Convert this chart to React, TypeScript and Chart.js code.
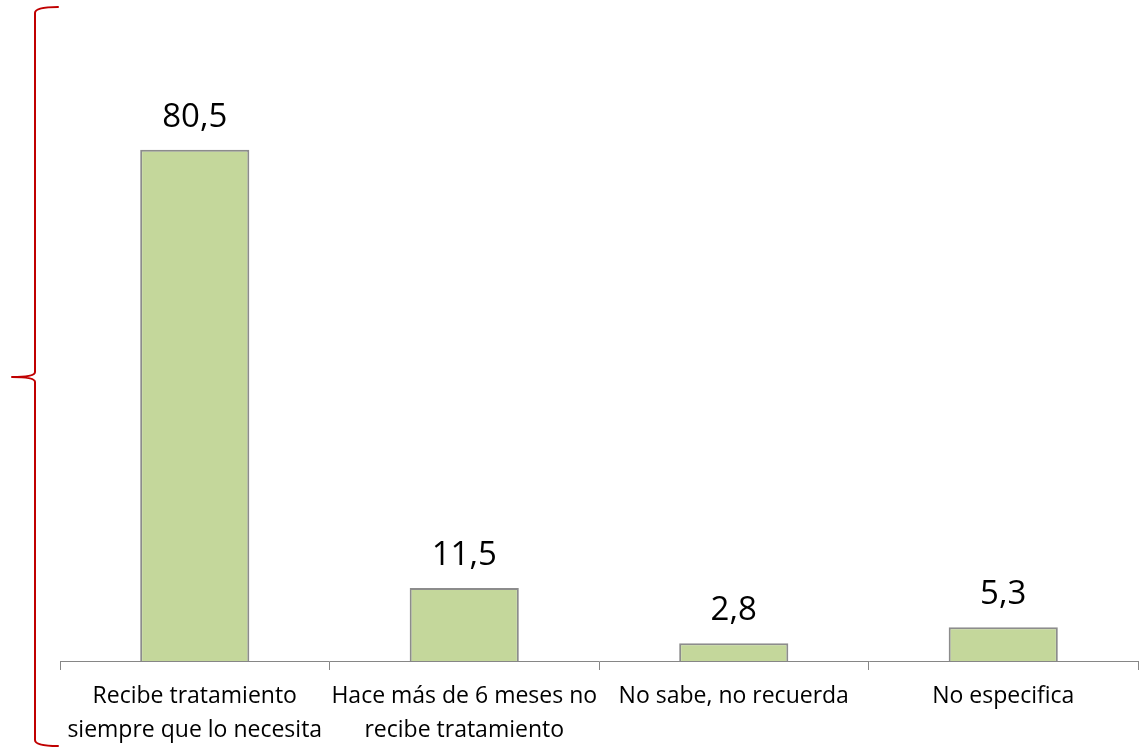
import React, { useEffect, useRef } from "react";
import { Chart, registerables } from "chart.js";

Chart.register(...registerables);

const categories: string[][] = [
  ["Recibe tratamiento", "siempre que lo necesita"],
  ["Hace más de 6 meses no", "recibe tratamiento"],
  ["No sabe, no recuerda"],
  ["No especifica"],
];
const values: number[] = [80.5, 11.5, 2.8, 5.3];
const valueLabels: string[] = ["80,5", "11,5", "2,8", "5,3"];

const FONT = "'Open Sans', Lato, sans-serif";

export default function App() {
  const ref = useRef<HTMLCanvasElement | null>(null);

  useEffect(() => {
    if (!ref.current) return;
    document.body.style.margin = "0";

    const labelPlugin = {
      id: "valueLabels",
      afterDatasetsDraw(chart: any) {
        const ctx = chart.ctx;
        const meta = chart.getDatasetMeta(0);
        ctx.save();
        ctx.fillStyle = "#000";
        ctx.font = `33px ${FONT}`;
        ctx.textAlign = "center";
        ctx.textBaseline = "alphabetic";
        meta.data.forEach((el: any, i: number) => {
          ctx.fillText(valueLabels[i], el.x, el.y - 23);
        });
        ctx.restore();
      },
    };

    const bracePlugin = {
      id: "brace",
      afterDraw(chart: any) {
        const ctx = chart.ctx;
        ctx.save();
        ctx.strokeStyle = "#c00000";
        ctx.lineWidth = 2;
        ctx.lineCap = "round";
        ctx.lineJoin = "round";
        const x = 35;
        const top = 7;
        const bot = 746;
        const mid = 377;
        ctx.beginPath();
        ctx.moveTo(58, top);
        ctx.quadraticCurveTo(x, top, x, top + 6);
        ctx.lineTo(x, mid - 5);
        ctx.quadraticCurveTo(x, mid, 12, mid);
        ctx.quadraticCurveTo(x, mid, x, mid + 5);
        ctx.lineTo(x, bot - 6);
        ctx.quadraticCurveTo(x, bot, 58, bot);
        ctx.stroke();
        ctx.restore();
      },
    };

    const chart = new Chart(ref.current, {
      type: "bar",
      data: {
        labels: categories,
        datasets: [
          {
            data: values,
            backgroundColor: "#c4d79b",
            borderColor: "#8c8c8c",
            borderWidth: 2,
            barPercentage: 0.405,
            categoryPercentage: 1,
          },
        ],
      },
      options: {
        animation: false,
        responsive: true,
        maintainAspectRatio: false,
        layout: { padding: { top: 26, left: 60, right: 5, bottom: 0 } },
        plugins: {
          legend: { display: false },
          tooltip: { enabled: false },
        },
        scales: {
          x: {
            grid: {
              display: true,
              drawOnChartArea: false,
              drawTicks: true,
              tickLength: 9,
              color: "#868686",
              offset: true,
            },
            border: { display: true, color: "#868686", width: 1 },
            ticks: {
              color: "#000",
              font: { family: FONT, size: 23, lineHeight: 1.45 },
              padding: 10,
              maxRotation: 0,
              autoSkip: false,
            },
            afterFit(scale: any) {
              scale.height = 89;
            },
          },
          y: {
            display: false,
            min: 0,
            max: 100,
          },
        },
      },
      plugins: [labelPlugin, bracePlugin],
    });
    return () => chart.destroy();
  }, []);

  return (
    <div style={{ position: "fixed", left: 0, top: 0, width: 1143, height: 750 }}>
      <canvas ref={ref} />
    </div>
  );
}
